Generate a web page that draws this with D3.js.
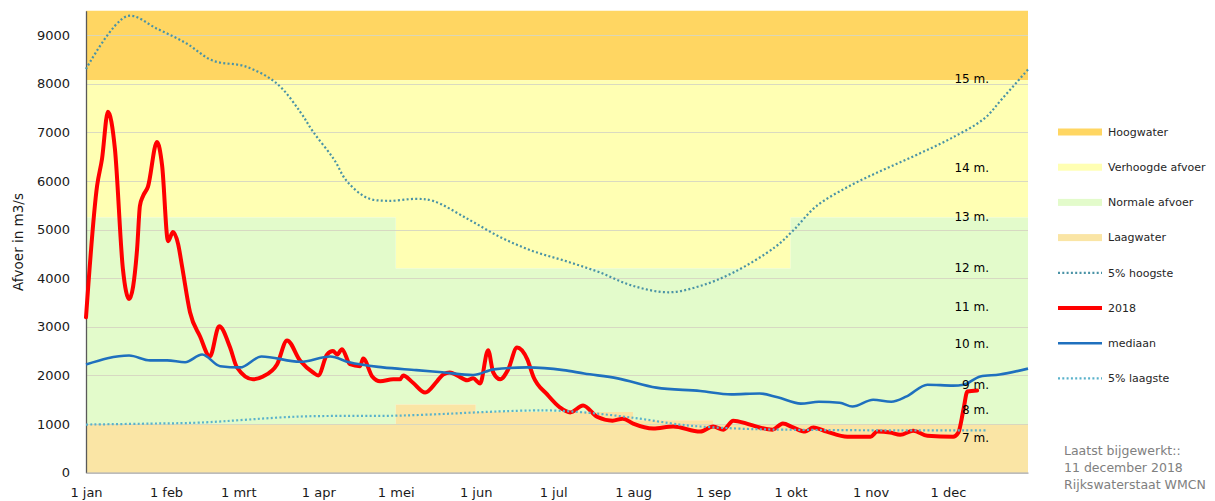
<!DOCTYPE html>
<html><head><meta charset="utf-8">
<script src="https://cdn.jsdelivr.net/npm/d3@7"></script>
<style>
html,body{margin:0;padding:0;background:#fff;}
svg{display:block;font-family:"DejaVu Sans",sans-serif;}
</style></head>
<body><svg id="chart" width="1215" height="501"></svg>
<script>
// ---------- data ----------
const monthStarts = [0,31,59,90,120,151,181,212,243,273,304,334,365];
const monthLabels = ["1 jan","1 feb","1 mrt","1 apr","1 mei","1 jun","1 jul","1 aug","1 sep","1 okt","1 nov","1 dec"];
const yTicks = [0,1000,2000,3000,4000,5000,6000,7000,8000,9000];

// band boundaries per month (m3/s)
const hoogwaterLower  = [8070,8070,8070,8070,8070,8070,8070,8070,8070,8070,8070,8070];
const verhoogdLower   = [5250,5250,5250,5250,4200,4200,4200,4200,4200,5250,5250,5250];
const laagwaterUpper  = [1000,1000,1000,1000,1400,1250,1250,1080,1000,1000,1000,1000];
const yMaxValue = 9500;

// 5% hoogste (day of year, m3/s)
const hoogDays = [0,16,27.5,39,49,62,74,83,88,96,101,109,117,128,134.5,148,160.5,173,186,199,212,226,238,251,267,274,283,296,309,322,335,348,355,365];
const hoogVals = [8300,9390,9130,8825,8475,8350,8000,7420,7010,6450,6000,5650,5590,5630,5590,5215,4845,4560,4350,4120,3840,3710,3840,4120,4640,4980,5480,5900,6230,6540,6870,7280,7690,8290];

// 2018
const y2018Days = [0,4.3,6.2,8.5,11.2,14.3,16.7,19.8,20.9,22.1,24,27.5,29.5,31.8,33.7,35.7,37.2,40.3,44.2,48,51.6,55.8,58.5,64.7,68.6,74,77.9,83,88,90,93.4,95.7,97.3,99.2,102.3,106.2,107.4,110.9,114,119,121.7,122.9,126.7,131.4,136,138.4,141,143.8,147.7,150,152.7,155.8,157.8,160.5,163.6,167,171,173.3,178.7,183.7,187.6,192.6,198,204,208,212,219.8,227.5,238,243,247,250.8,256,261,266,270,274,278.7,281.8,287,295,304,306.6,311.6,315.5,320.5,326,336,338,340,341.5,345.3];
const y2018Vals = [3195,5900,6450,7420,6660,4190,3570,4600,5490,5690,5880,6800,6310,4760,4950,4700,4250,3300,2800,2390,3010,2580,2165,1920,1980,2225,2720,2300,2060,2000,2430,2500,2430,2540,2230,2190,2350,1980,1880,1920,1920,2000,1850,1650,1880,2020,2060,2000,1900,1940,1835,2520,2060,1920,2125,2575,2330,1980,1610,1340,1240,1380,1150,1070,1110,1010,910,950,845,950,885,1070,1010,930,885,1010,930,845,930,845,740,740,845,825,780,865,760,740,825,1300,1670,1690];

// mediaan
const medDays = [0,16.7,24.8,31.4,38.4,45,52,59.7,68,83,94.6,102,115,128,138,150,158,171,185,193,206,221,238,250,261,268,277,284,292,297,305,312,318,326,336,340,346.5,354,365];
const medVals = [2225,2410,2310,2310,2270,2430,2190,2165,2390,2280,2390,2270,2165,2110,2065,2010,2125,2165,2110,2040,1940,1750,1680,1610,1630,1550,1420,1460,1440,1360,1500,1460,1570,1810,1790,1810,1980,2020,2140];

// 5% laagste
const laagDays = [0,25,44,83,122,160,173,180,193,212,230,238,256,270,315,349];
const laagVals = [990,1010,1030,1155,1175,1260,1280,1280,1240,1130,990,950,900,885,870,870];

// water level labels
const levelLabels = ["15 m.","14 m.","13 m.","12 m.","11 m.","10 m.","9 m.","8 m.","7 m."];
const levelValues = [8100,6265,5257,4208,3405,2644,1800,1290,714];

const legendLabels = ["Hoogwater","Verhoogde afvoer","Normale afvoer","Laagwater","5% hoogste","2018","mediaan","5% laagste"];
const footerLines = ["Laatst bijgewerkt::","11 december 2018","Rijkswaterstaat WMCN"];

// ---------- styles ----------
const C = {
  hoog:"#FFD662", verh:"#FFFFB3", norm:"#E3FBCB", laag:"#FAE5A5",
  p95:"#4A93A6", red:"#FF0000", med:"#1F70BE", p5:"#5AB2CB",
  grid:"#D6D6C2", axis:"#7F7F7F"
};

const svg = d3.select("#chart");
const x = d3.scaleLinear().domain([0,365]).range([86,1028]);
const y = d3.scaleLinear().domain([0,yMaxValue]).range([472.7,10.7]);

// bands (step per month)
function bandArea(lower, upper){
  const pts = monthStarts.map((d,i)=>({d, lo: lower[Math.min(i,11)], hi: upper[Math.min(i,11)]}));
  return d3.area().curve(d3.curveStepAfter)
    .x(p=>x(p.d)).y0(p=>y(p.lo)).y1(p=>y(p.hi))(pts);
}
const zeros = monthStarts.map(()=>0).slice(0,12);
const tops = monthStarts.map(()=>yMaxValue).slice(0,12);
const gBands = svg.append("g");
gBands.append("path").attr("d", bandArea(hoogwaterLower, tops)).attr("fill", C.hoog);
gBands.append("path").attr("d", bandArea(verhoogdLower, hoogwaterLower)).attr("fill", C.verh);
gBands.append("path").attr("d", bandArea(laagwaterUpper, verhoogdLower)).attr("fill", C.norm);
gBands.append("path").attr("d", bandArea(zeros, laagwaterUpper)).attr("fill", C.laag);

// gridlines
svg.append("g").selectAll("line").data(yTicks.filter(t=>t>0)).join("line")
  .attr("x1", x(0)).attr("x2", x(365))
  .attr("y1", d=>Math.round(y(d))+0.5).attr("y2", d=>Math.round(y(d))+0.5)
  .attr("stroke", C.grid).attr("stroke-width",1.2).attr("opacity",0.9);

// axes
const yAxis = d3.axisLeft(y).tickValues(yTicks).tickSize(0).tickPadding(16).tickFormat(d3.format("d"));
const gy = svg.append("g").attr("transform","translate(86,0)").call(yAxis);
gy.select(".domain").attr("stroke","#595959").attr("stroke-width",1.3);
gy.selectAll("text").attr("font-size","13px").attr("fill","#1a1a1a").attr("font-family","DejaVu Sans");

const xAxis = d3.axisBottom(x).tickValues(monthStarts.slice(0,12)).tickSize(0).tickPadding(15)
  .tickFormat((d,i)=>monthLabels[i]);
const gx = svg.append("g").attr("transform","translate(0,472.7)").call(xAxis);
gx.select(".domain").attr("stroke","#A6A6A6").attr("stroke-width",1.3);
gx.selectAll("text").attr("font-size","13px").attr("fill","#1a1a1a").attr("font-family","DejaVu Sans");

// y title
svg.append("text").attr("transform","translate(23,242) rotate(-90)")
  .attr("text-anchor","middle").attr("font-size","13.5px").attr("fill","#1a1a1a")
  .text("Afvoer in m3/s");

// lines
function line(days, vals, curve){
  return d3.line().curve(curve||d3.curveMonotoneX).x((d,i)=>x(days[i])).y((d,i)=>y(vals[i]))(vals);
}
svg.append("path").attr("d", line(hoogDays, hoogVals, d3.curveCatmullRom)).attr("fill","none")
  .attr("stroke", C.p95).attr("stroke-width",2.2).attr("stroke-dasharray","2,2.3");
svg.append("path").attr("d", line(y2018Days, y2018Vals)).attr("fill","none")
  .attr("stroke", C.red).attr("stroke-width",4).attr("stroke-linejoin","round").attr("stroke-linecap","round");
svg.append("path").attr("d", line(medDays, medVals)).attr("fill","none")
  .attr("stroke", C.med).attr("stroke-width",2.6).attr("stroke-linejoin","round");
svg.append("path").attr("d", line(laagDays, laagVals, d3.curveCatmullRom)).attr("fill","none")
  .attr("stroke", C.p5).attr("stroke-width",2.2).attr("stroke-dasharray","2,2.3");

// level labels
svg.append("g").selectAll("text").data(levelLabels).join("text")
  .attr("x", 989).attr("y",(d,i)=>y(levelValues[i])).attr("dy","0.35em")
  .attr("text-anchor","end").attr("font-size","12px").attr("fill","#000").text(d=>d);

// legend
const legY0 = 132, legStep = 35.2;
const lg = svg.append("g");
legendLabels.forEach((lab,i)=>{
  const yy = legY0 + i*legStep;
  if(i<4){
    const col = [C.hoog,C.verh,C.norm,C.laag][i];
    lg.append("rect").attr("x",1058).attr("y",yy-3.5).attr("width",44).attr("height",7).attr("fill",col);
  } else {
    const st = [
      {c:C.p95,w:2.2,da:"2,2.3"},{c:C.red,w:4,da:null},{c:C.med,w:2.6,da:null},{c:C.p5,w:2.2,da:"2,2.3"}
    ][i-4];
    const l = lg.append("line").attr("x1",1058).attr("x2",1102).attr("y1",yy).attr("y2",yy)
      .attr("stroke",st.c).attr("stroke-width",st.w);
    if(st.da) l.attr("stroke-dasharray",st.da);
  }
  lg.append("text").attr("x",1108).attr("y",yy).attr("dy","0.35em")
    .attr("font-size","11px").attr("fill","#262626").text(lab);
});

// footer
svg.append("g").selectAll("text").data(footerLines).join("text")
  .attr("x",1064).attr("y",(d,i)=>451+i*17).attr("dy","0.35em")
  .attr("font-size","12.5px").attr("fill","#808080").text(d=>d);
</script></body></html>
